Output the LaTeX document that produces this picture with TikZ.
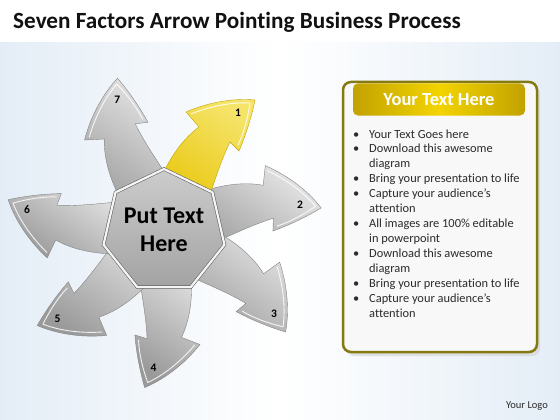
\documentclass[tikz,border=0pt]{standalone}
\usepackage{fontspec}
\setmainfont{Carlito}[Ligatures=NoCommon]
\usetikzlibrary{shapes.geometric}
\definecolor{bgblue}{HTML}{E4EDF6}
\definecolor{titleblack}{HTML}{111111}
\definecolor{grayD}{HTML}{9A9A9A}
\definecolor{grayL}{HTML}{E6E6E6}
\definecolor{yelD}{HTML}{E6C200}
\definecolor{yelL}{HTML}{F6E46A}
\definecolor{panelborder}{HTML}{857A12}
\definecolor{panelfill}{HTML}{F8F8F8}
\definecolor{goldmid}{HTML}{F3D400}
\definecolor{goldedge}{HTML}{C2A200}
\definecolor{bodygray}{HTML}{2B2B2B}
\newcommand\fanarrow[5]{%
  \begin{scope}[shift={(164,230)}, rotate=#1, yscale=-1]
    \shade[top color=#3, bottom color=#2, shading angle=-35, draw=#2!85!black, line width=0.4pt]
      (-12,25) .. controls (-4,58) and (14,88) .. (35,103) -- (22,118)
      .. controls (45,128) and (70,132) .. (91,130)
      .. controls (88,115) and (82,95) .. (75,79) -- (66,88)
      .. controls (56,68) and (46,35) .. (36,5) -- cycle;
    \draw[white, line width=0.9pt, opacity=0.85, line join=round]
      (27,116) .. controls (47,124) and (68,128) .. (86,127)
      .. controls (84,113) and (80,97) .. (74,85);
    \node[numlabel] (#5) at (74,117) {#4};
  \end{scope}}
\tikzset{
  numlabel/.style={font=\bfseries\fontsize{11.5}{13}\selectfont, text=black, inner sep=0},
  bodytext/.style={anchor=base west, inner sep=0, font=\fontsize{12.4}{14}\selectfont, text=bodygray},
}
\begin{document}
\begin{tikzpicture}[x=1pt,y=-1pt]
\useasboundingbox (0,0) rectangle (560,420);
\fill[white] (0,0) rectangle (560,420);
\shade[left color=bgblue, right color=bgblue, middle color=white] (0,43) rectangle (560,420);
\node[anchor=base west, inner sep=0, font=\bfseries\fontsize{23.2}{27}\selectfont, text=titleblack] (title) at (13,28.5) {Seven Factors Arrow Pointing Business Process};

% arrows
\fanarrow{-47}{grayD}{grayL}{2}{n2}
\fanarrow{-95}{grayD}{grayL}{3}{n3}
\fanarrow{-152}{grayD}{grayL}{4}{n4}
\fanarrow{-198}{grayD}{grayL}{5}{n5}
\fanarrow{-246}{grayD}{grayL}{6}{n6}
\fanarrow{52}{grayD}{grayL}{7}{n7}
\fanarrow{0}{yelD}{yelL}{1}{n1}

% hub
\node[regular polygon, regular polygon sides=7, minimum size=124pt, inner sep=0,
      top color=gray!40!white, bottom color=gray!72!white, draw=gray!80!black, line width=0.6pt,
      double=white!92!gray, double distance=2.2pt] (hub) at (164,231) {};
\node[align=center, font=\bfseries\fontsize{24}{28}\selectfont, text=black, inner sep=0] (hubtext) at (164,230) {Put Text\\Here};

% panel
\fill[gray!35, opacity=0.6, rounded corners=8] (346,86) rectangle (540,356);
\node[draw=panelborder, line width=2.5pt, fill=panelfill, rounded corners=8, minimum width=194pt, minimum height=270pt, inner sep=0] (panel) at (440,217) {};
\node[rounded corners=5, minimum width=172pt, minimum height=32pt, inner sep=0,
      left color=goldedge, right color=goldedge, middle color=goldmid,
      text=white, font=\bfseries\fontsize{18.5}{21}\selectfont] (header) at (439,99.5) {Your Text Here};

\foreach \txt [count=\i] in {Your Text Goes here, Download this awesome, diagram, Bring your presentation to life, Capture your audience’s, attention, All images are 100\% editable, in powerpoint, Download this awesome, diagram, Bring your presentation to life, Capture your audience’s, attention}
  \node[bodytext] (line\i) at (369,{138+(\i-1)*14.93}) {\txt};
\foreach \i in {1,2,4,5,7,9,11,12}
  \node[bodytext] (bul\i) at (353,{138+(\i-1)*14.93}) {•};

\node[inner sep=0, font=\fontsize{10.5}{12}\selectfont, text=bodygray] (logo) at (527,406) {Your Logo};
\end{tikzpicture}
\end{document}
